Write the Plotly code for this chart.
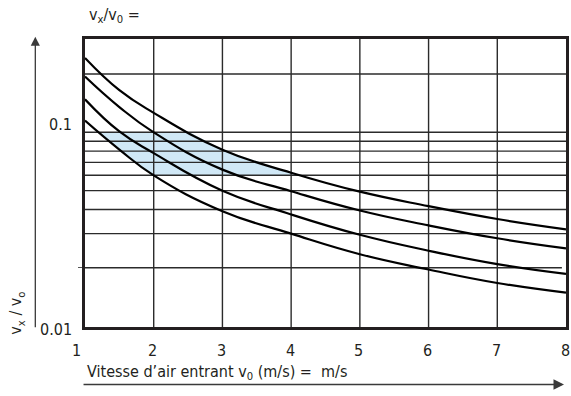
import math
import plotly.graph_objects as go

# Inlet air velocity v0 (m/s)
velocity = [1, 1.5, 2, 3, 4, 5, 6, 7, 8]

# Ratio vx / v0 for the four throw curves (top to bottom)
curve_a = [0.242, 0.165, 0.126, 0.0814, 0.0619, 0.0494, 0.0416, 0.0357, 0.0316]
curve_b = [0.194, 0.135, 0.100, 0.0642, 0.0497, 0.0395, 0.0331, 0.0284, 0.0252]
curve_c = [0.148, 0.101, 0.0781, 0.0500, 0.0377, 0.0296, 0.0245, 0.0209, 0.0186]
curve_d = [0.115, 0.0815, 0.0600, 0.0392, 0.0300, 0.0235, 0.0196, 0.0167, 0.0149]

# Comfort zone shaded between the outer curves
zone_low = 0.06
zone_high = 0.1

# Axes
x_ticks = [1, 2, 3, 4, 5, 6, 7, 8]
y_grid = [0.03, 0.04, 0.05, 0.06, 0.07, 0.08, 0.09, 0.1, 0.2]
y_short_grid = [0.02]
y_label_vals = [0.01, 0.1]
y_label_text = ["0.01", "0.1"]
y_min, y_max = 0.0099, 0.303

FONT = "Liberation Sans Narrow, DejaVu Sans Condensed, Arial Narrow, sans-serif"
INK = "#231f20"
GRID = "#2b2b2b"
ZONE = "#d0e8f6"


def crossing(xs, ys, level):
    """x where a decreasing curve passes a level (log-linear between points)."""
    for i in range(len(xs) - 1):
        if ys[i] >= level >= ys[i + 1]:
            t = math.log(ys[i] / level) / math.log(ys[i] / ys[i + 1])
            return xs[i] + t * (xs[i + 1] - xs[i])
    return None


# Outline of the shaded zone: lower curve on the left, upper curve on the right
zx, zy = [crossing(velocity, curve_d, zone_high)], [zone_high]
for x, y in zip(velocity, curve_d):
    if zone_low < y < zone_high:
        zx.append(x)
        zy.append(y)
zx.append(crossing(velocity, curve_d, zone_low))
zy.append(zone_low)
zx.append(crossing(velocity, curve_a, zone_low))
zy.append(zone_low)
for x, y in reversed(list(zip(velocity, curve_a))):
    if zone_low < y < zone_high:
        zx.append(x)
        zy.append(y)
zx.append(crossing(velocity, curve_a, zone_high))
zy.append(zone_high)

fig = go.Figure()

fig.add_trace(go.Scatter(
    x=zx, y=zy, mode="lines", fill="toself", fillcolor=ZONE,
    line=dict(width=0, color=ZONE), hoverinfo="skip", showlegend=False))

# Grid drawn over the shaded zone
gx, gy = [], []
for v in y_grid:
    gx += [x_ticks[0], x_ticks[-1], None]
    gy += [v, v, None]
for v in y_short_grid:
    gx += [x_ticks[0], x_ticks[-1] - 0.06, None]
    gy += [v, v, None]
for v in x_ticks[1:-1]:
    gx += [v, v, None]
    gy += [y_min, y_max, None]
fig.add_trace(go.Scatter(
    x=gx, y=gy, mode="lines", line=dict(color=GRID, width=1.4),
    hoverinfo="skip", showlegend=False))

for ys in (curve_a, curve_b, curve_c, curve_d):
    fig.add_trace(go.Scatter(
        x=velocity, y=ys, mode="lines",
        line=dict(color="#000000", width=2.2, shape="spline", smoothing=1.3),
        showlegend=False))

fig.update_xaxes(
    range=[x_ticks[0], x_ticks[-1]], showgrid=False, zeroline=False,
    showline=True, mirror=True, linecolor=INK, linewidth=2.6,
    ticks="", showticklabels=False)
fig.update_yaxes(
    type="log", range=[math.log10(y_min), math.log10(y_max)],
    showgrid=False, zeroline=False, showline=True, mirror=True,
    linecolor=INK, linewidth=2.6, tickvals=y_short_grid, ticks="outside",
    ticklen=4, tickwidth=1.2, tickcolor="#555555", showticklabels=False)

ann = []
for v in x_ticks:
    ann.append(dict(
        x=v, xref="x", y=0, yref="paper", yanchor="top", yshift=-12,
        xshift=-9 if v == x_ticks[0] else -1, text=str(v), showarrow=False,
        font=dict(family=FONT, size=16, color=INK)))
ann.append(dict(
    x=0, xref="paper", y=math.log10(y_label_vals[0]), yref="y",
    xanchor="right", yanchor="middle", xshift=-11, yshift=-3,
    text=y_label_text[0], showarrow=False,
    font=dict(family=FONT, size=16, color=INK)))
ann.append(dict(
    x=0, xref="paper", y=math.log10(y_label_vals[1]), yref="y",
    xanchor="right", yanchor="bottom", xshift=-11, yshift=-4,
    text=y_label_text[1], showarrow=False,
    font=dict(family=FONT, size=16, color=INK)))

# Titles
ann.append(dict(
    x=0.004, xref="paper", y=1.081, yref="paper", xanchor="left",
    yanchor="middle", text="v<sub>x</sub>/v<sub>0</sub> =", showarrow=False,
    font=dict(family=FONT, size=16, color=INK)))
ann.append(dict(
    x=0.0, xref="paper", y=-0.1576, yref="paper", xanchor="left",
    yanchor="middle",
    text="Vitesse d\u2019air entrant v<sub>0</sub> (m/s) =  m/s",
    showarrow=False, font=dict(family=FONT, size=16, color=INK)))
ann.append(dict(
    x=-0.1426, xref="paper", y=0.0477, yref="paper", xanchor="center",
    yanchor="middle", textangle=-90,
    text="v<sub>x</sub> / v<sub>o</sub>", showarrow=False,
    font=dict(family=FONT, size=16, color=INK)))

# Direction arrows
ann.append(dict(
    x=0.9959, xref="paper", y=-0.1994, yref="paper", ax=-482, ay=0,
    text="", showarrow=True, arrowhead=2, arrowsize=1.4, arrowwidth=1.5,
    arrowcolor="#3a3a3a"))
ann.append(dict(
    x=-0.1033, xref="paper", y=1.008, yref="paper", ax=0, ay=292,
    text="", showarrow=True, arrowhead=2, arrowsize=1.4, arrowwidth=1.3,
    arrowcolor="#3a3a3a"))

fig.update_layout(
    width=571, height=396, margin=dict(l=85, r=2, t=39, b=69),
    paper_bgcolor="white", plot_bgcolor="white", annotations=ann,
    font=dict(family=FONT, size=16, color=INK))

fig.write_html("out.html")
